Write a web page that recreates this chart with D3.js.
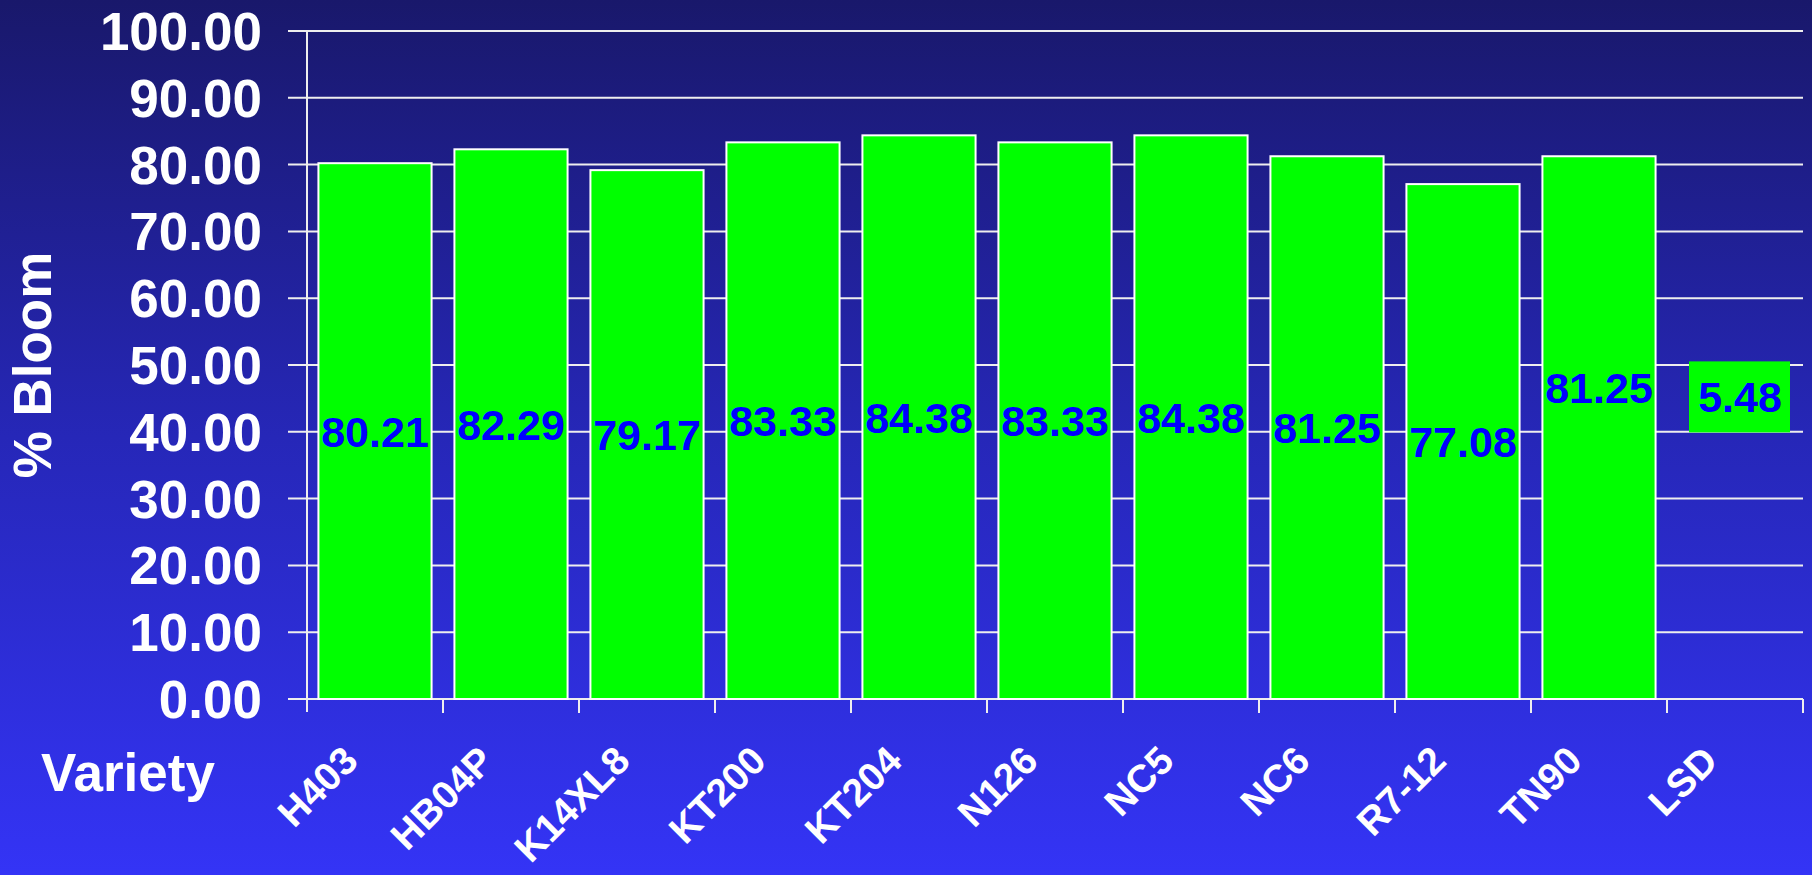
<!DOCTYPE html>
<html>
<head>
<meta charset="utf-8">
<script src="https://cdn.jsdelivr.net/npm/d3@7"></script>
<style>
  html, body { margin: 0; padding: 0; background: #1a1a6c; }
  svg { display: block; font-family: "Liberation Sans", Arial, sans-serif; font-weight: bold; }
</style>
</head>
<body>
<svg width="1812" height="875"></svg>
<script>
// chart data
var varieties = ['H403', 'HB04P', 'K14XL8', 'KT200', 'KT204', 'N126', 'NC5', 'NC6', 'R7-12', 'TN90', 'LSD'];
var bloom = [80.21, 82.29, 79.17, 83.33, 84.38, 83.33, 84.38, 81.25, 77.08, 81.25, 5.48];
// label placement (in % Bloom units); null = middle of the bar
var labelAt = [null, null, null, null, null, null, null, null, null, 46.6, 45.3];
var yTicks = [0, 10, 20, 30, 40, 50, 60, 70, 80, 90, 100];

var svg = d3.select('svg');
var svgWidth = +svg.attr('width');
var svgHeight = +svg.attr('height');
var plot = {l: 307, r: 1803, t: 31, b: 699};

// background gradient
var grad = svg.append('defs').append('linearGradient')
    .attr('id', 'bg')
    .attr('x1', 0).attr('y1', 0).attr('x2', 0).attr('y2', 1);
grad.append('stop').attr('offset', '0%').attr('stop-color', '#19186b');
grad.append('stop').attr('offset', '50%').attr('stop-color', '#2627b8');
grad.append('stop').attr('offset', '100%').attr('stop-color', '#3434f6');

svg.append('rect')
    .attr('width', svgWidth)
    .attr('height', svgHeight)
    .attr('fill', 'url(#bg)');

var xScale = d3.scaleBand()
    .domain(varieties)
    .range([plot.l, plot.r])
    .padding(0);

var yScale = d3.scaleLinear()
    .domain([0, 100])
    .range([plot.b, plot.t]);

var step = xScale.step();

// gridlines (with outer ticks on the left)
svg.append('g')
    .selectAll('line')
    .data(yTicks)
    .enter()
    .append('line')
    .attr('x1', plot.l - 19)
    .attr('x2', plot.r)
    .attr('y1', d => yScale(d))
    .attr('y2', d => yScale(d))
    .attr('stroke', '#eeeeee')
    .attr('stroke-width', 2);

// y tick labels
svg.append('g')
    .selectAll('text')
    .data(yTicks)
    .enter()
    .append('text')
    .attr('x', plot.l - 45)
    .attr('y', d => yScale(d))
    .attr('dy', '0.36em')
    .attr('text-anchor', 'end')
    .attr('fill', 'white')
    .attr('font-size', 53)
    .text(d3.format('.2f'));

// y axis line
svg.append('line')
    .attr('x1', plot.l).attr('x2', plot.l)
    .attr('y1', yScale(100)).attr('y2', yScale(0) + 13)
    .attr('stroke', '#eeeeee')
    .attr('stroke-width', 2);

// x ticks at category boundaries
var bounds = varieties.map(d => xScale(d)).concat([plot.r]);
svg.append('g')
    .selectAll('line')
    .data(bounds.slice(1))
    .enter()
    .append('line')
    .attr('x1', d => d).attr('x2', d => d)
    .attr('y1', yScale(0)).attr('y2', yScale(0) + 14)
    .attr('stroke', '#eeeeee')
    .attr('stroke-width', 2);

// bars (LSD is shown only as a boxed label)
var rows = varieties.map((v, i) => ({name: v, value: bloom[i], at: labelAt[i], lsd: v === 'LSD'}));

svg.append('g')
    .selectAll('rect')
    .data(rows.filter(d => !d.lsd))
    .enter()
    .append('rect')
    .attr('x', d => xScale(d.name) + step * 0.084)
    .attr('width', step * 0.832)
    .attr('y', d => yScale(d.value))
    .attr('height', d => yScale(0) - yScale(d.value))
    .attr('fill', '#00ff00')
    .attr('stroke', 'white')
    .attr('stroke-width', 2);

// value labels
var labels = svg.append('g')
    .selectAll('g')
    .data(rows)
    .enter()
    .append('g')
    .attr('transform', d => 'translate(' + [xScale(d.name) + step / 2 + (d.lsd ? 5 : 0), yScale(d.at == null ? d.value / 2 : d.at)] + ')');

labels.filter(d => d.lsd)
    .append('rect')
    .attr('x', -51)
    .attr('y', -35)
    .attr('width', 101)
    .attr('height', 71)
    .attr('fill', '#00ff00');

labels.append('text')
    .attr('text-anchor', 'middle')
    .attr('dy', '0.36em')
    .attr('fill', '#0000ff')
    .attr('font-size', 43)
    .text(d => d3.format('.2f')(d.value));

// category labels
svg.append('g')
    .selectAll('text')
    .data(varieties)
    .enter()
    .append('text')
    .attr('text-anchor', 'end')
    .attr('transform', d => 'translate(' + [xScale(d) + step / 2 - 15, 763] + ')rotate(-45)')
    .attr('fill', 'white')
    .attr('font-size', 39)
    .text(d => d);

// axis titles
svg.append('text')
    .attr('x', 41)
    .attr('y', 791)
    .attr('fill', 'white')
    .attr('font-size', 53)
    .text('Variety');

svg.append('text')
    .attr('text-anchor', 'middle')
    .attr('transform', 'translate(' + [51, (plot.t + plot.b) / 2] + ')rotate(-90)')
    .attr('fill', 'white')
    .attr('font-size', 53)
    .text('% Bloom');
</script>
</body>
</html>
